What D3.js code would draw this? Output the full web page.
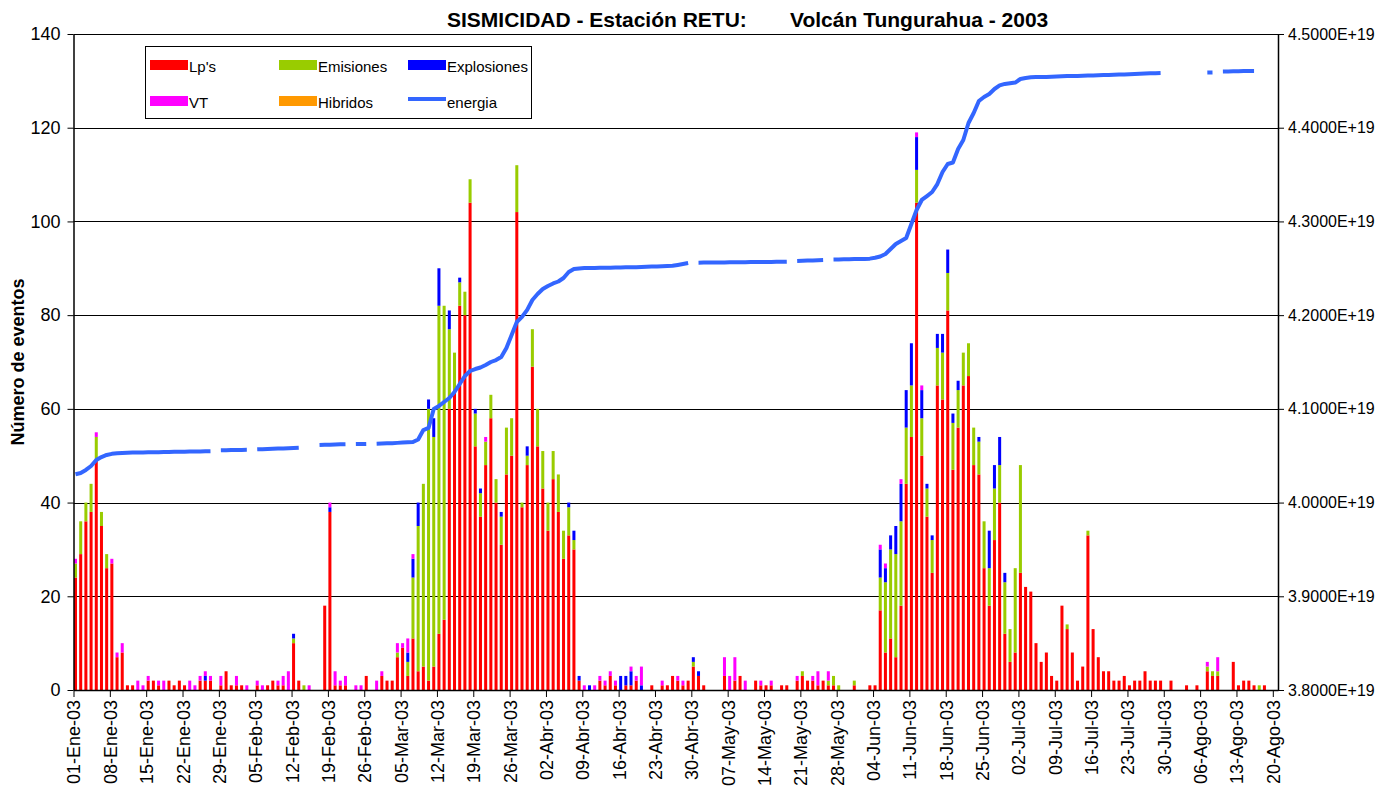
<!DOCTYPE html>
<html><head><meta charset="utf-8">
<script src="https://cdn.jsdelivr.net/npm/d3@7"></script>
<style>
body{margin:0;background:#fff}
svg{display:block}
text{font-family:"Liberation Sans",Arial,sans-serif;fill:#000}
</style>
</head><body>
<svg id="chart" width="1396" height="796"></svg>
<script>
// ---------------- DATA ----------------
const firstDay = [2003, 0, 1];   // 01-Ene-03, one value per day
const xTickLabels = ["01-Ene-03","08-Ene-03","15-Ene-03","22-Ene-03","29-Ene-03","05-Feb-03","12-Feb-03","19-Feb-03","26-Feb-03","05-Mar-03","12-Mar-03","19-Mar-03","26-Mar-03","02-Abr-03","09-Abr-03","16-Abr-03","23-Abr-03","30-Abr-03","07-May-03","14-May-03","21-May-03","28-May-03","04-Jun-03","11-Jun-03","18-Jun-03","25-Jun-03","02-Jul-03","09-Jul-03","16-Jul-03","23-Jul-03","30-Jul-03","06-Ago-03","13-Ago-03","20-Ago-03"];
const yTicks = [0,20,40,60,80,100,120,140];
const energyTicks = [3.8,3.9,4.0,4.1,4.2,4.3,4.4,4.5]; // x 1E19

const lps = [
24,29,36,38,49,35,26,27,7,8,
1,1,0,0,2,2,1,0,2,1,
2,1,0,0,2,2,2,0,1,4,
1,1,1,0,0,1,0,1,2,1,
1,0,10,2,0,0,0,0,18,38,
1,1,1,0,0,0,3,0,0,3,
2,2,7,9,3,11,4,5,2,5,
12,15,60,64,82,80,104,52,37,48,
58,40,31,46,50,102,39,48,69,52,
43,34,45,38,28,33,30,2,0,0,
0,2,1,3,1,0,1,1,2,0,
0,1,0,1,1,3,2,1,2,5,
3,1,0,0,0,3,0,2,3,0,
0,2,1,1,1,0,1,1,0,2,
3,2,2,1,2,1,1,0,0,0,
1,0,0,1,1,17,8,11,7,18,
44,54,104,50,37,25,65,62,81,47,
56,65,67,48,46,26,18,32,40,12,
6,8,25,22,21,10,6,8,3,2,
18,13,8,2,5,33,13,7,4,4,
2,2,3,1,2,2,4,2,2,2,
0,2,0,0,1,0,1,0,4,3,
3,0,0,6,1,2,2,1,0,1];

const emisiones = [
3,7,4,6,5,3,3,0,0,0,
0,0,0,0,0,0,0,0,0,0,
0,0,0,0,0,0,0,0,0,0,
0,0,0,0,0,0,0,0,0,0,
0,0,1,0,1,0,0,0,0,0,
0,0,0,0,0,0,0,0,0,0,
0,0,1,0,3,13,31,39,58,49,
70,67,17,8,5,5,5,7,5,5,
5,5,6,10,8,10,1,2,8,8,
8,6,6,8,6,6,2,0,0,0,
0,0,0,0,0,0,0,0,0,0,
0,0,0,0,0,0,0,0,0,1,
0,0,0,0,0,0,0,0,0,0,
0,0,0,0,0,0,0,0,0,0,
1,0,0,0,0,1,2,1,0,0,
1,0,0,0,0,7,15,19,22,18,
12,11,7,8,6,7,8,10,8,10,
8,7,7,8,7,10,8,11,8,11,
7,18,23,0,0,0,0,0,0,0,
0,1,0,0,0,1,0,0,0,0,
0,0,0,0,0,0,0,0,0,0,
0,0,0,0,0,0,0,0,1,1,
1,0,0,0,0,0,0,0,1,0];

const explosiones = [
0,0,0,0,0,0,0,0,0,0,
0,0,0,0,0,0,0,0,0,0,
0,0,0,0,0,1,0,0,0,0,
0,0,0,0,0,0,0,0,0,0,
0,0,1,0,0,0,0,0,0,1,
0,0,0,0,0,0,0,0,0,0,
0,0,0,0,2,4,5,0,2,4,
8,0,4,0,1,0,0,1,1,0,
0,0,1,0,0,0,0,2,0,0,
0,0,0,0,0,1,2,1,0,1,
0,0,0,0,0,3,2,3,0,1,
0,0,0,0,0,0,0,0,0,1,
1,0,0,0,0,0,0,0,0,0,
0,0,0,0,0,0,0,0,0,0,
0,0,0,0,0,0,0,0,0,0,
0,0,0,0,0,6,3,3,6,8,
8,9,7,6,1,1,3,4,5,2,
2,0,0,0,1,0,8,5,6,2,
0,0,0,0,0,0,0,0,0,0,
0,0,0,0,0,0,0,0,0,0,
0,0,0,0,0,0,0,0,0,0,
0,0,0,0,0,0,0,0,0,0,
0,0,0,0,0,0,0,0,0,0];

const vt = [
1,0,0,0,1,0,0,1,1,2,
0,0,2,1,1,0,1,2,0,0,
0,0,2,1,1,1,1,0,2,0,
0,2,0,1,0,1,1,0,0,1,
2,4,0,0,0,1,0,0,0,1,
3,1,2,0,1,1,0,0,2,1,
0,0,2,1,3,1,0,0,0,0,
0,0,0,0,0,0,0,0,0,1,
0,0,0,0,0,0,0,0,0,0,
0,0,0,0,0,0,0,0,1,0,
1,1,1,1,1,0,0,1,1,4,
0,0,0,1,0,0,1,1,0,0,
0,0,0,0,0,4,3,5,0,2,
0,0,1,0,1,0,0,0,0,1,
0,0,1,3,0,2,0,0,0,0,
0,0,0,0,0,1,1,0,0,1,
0,0,1,1,0,0,0,0,0,0,
0,0,0,0,0,0,0,0,0,0,
0,0,0,0,0,0,0,0,0,0,
0,0,0,0,0,0,0,0,0,0,
0,0,0,0,0,0,0,0,0,0,
0,0,0,0,0,0,0,0,1,0,
3,0,0,0,0,0,0,0,0,0];

const hibridos = [
0,0,0,0,0,0,0,0,0,0, 0,0,0,0,0,0,0,0,0,0, 0,0,0,0,0,0,0,0,0,0,
0,0,0,0,0,0,0,0,0,0, 0,0,0,0,0,0,0,0,0,0, 0,0,0,0,0,0,0,0,0,0,
0,0,0,0,0,0,0,0,0,0, 0,0,0,0,0,0,0,0,0,0, 0,0,0,0,0,0,0,0,0,0,
0,0,0,0,0,0,0,0,0,0, 0,0,0,0,0,0,0,0,0,0, 0,0,0,0,0,0,0,0,0,0,
0,0,0,0,0,0,0,0,0,0, 0,0,0,0,0,0,0,0,0,0, 0,0,0,0,0,0,0,0,0,0,
0,0,0,0,0,0,0,0,0,0, 0,0,0,0,0,0,0,0,0,0, 0,0,0,0,0,0,0,0,0,0,
0,0,0,0,0,0,0,0,0,0, 0,0,0,0,0,0,0,0,0,0, 0,0,0,0,0,0,0,0,0,0,
0,0,0,0,0,0,0,0,0,0, 0,0,0,0,0,0,0,0,0,0];

// cumulative seismic energy, in units of 1E19 (null = no data)
const energia = [
4.0302,4.0316,4.0348,4.0390,4.0454,4.0486,4.0508,4.0520,4.0526,4.0529,
4.0531,4.0533,4.0534,4.0535,4.0536,4.0537,4.0538,4.0539,4.0540,4.0541,
4.0542,4.0543,4.0544,4.0545,4.0546,4.0547,4.0548,null,4.0558,4.0559,
4.0560,4.0561,4.0562,4.0563,null,4.0568,4.0570,4.0572,4.0574,4.0576,
4.0578,4.0580,4.0582,4.0585,null,null,null,4.0614,4.0616,4.0618,
4.0620,4.0622,4.0623,null,4.0624,4.0625,4.0626,null,4.0628,4.0630,
4.0632,4.0634,4.0637,4.0640,4.0643,4.0646,4.0673,4.0774,4.0796,4.0999,
4.1031,4.1073,4.1116,4.1180,4.1265,4.1351,4.1404,4.1425,4.1441,4.1468,
4.1500,4.1521,4.1553,4.1649,4.1788,4.1927,4.1981,4.2056,4.2162,4.2226,
4.2279,4.2311,4.2338,4.2359,4.2396,4.2460,4.2492,4.2498,4.2502,4.2503,
4.2504,4.2505,4.2506,4.2507,4.2508,4.2509,4.2510,4.2511,4.2512,4.2514,
4.2516,4.2518,4.2520,4.2522,4.2524,4.2526,4.2535,4.2545,4.2556,null,
4.2560,4.2561,4.2562,4.2562,4.2563,4.2563,4.2564,4.2564,4.2565,4.2565,
4.2566,4.2566,4.2567,4.2567,4.2568,4.2569,4.2570,4.2571,null,4.2578,
4.2580,4.2582,4.2584,4.2586,4.2588,null,4.2594,4.2595,4.2596,4.2597,
4.2598,4.2599,4.2600,4.2603,4.2612,4.2626,4.2652,4.2706,4.2759,4.2791,
4.2823,4.2973,4.3122,4.3229,4.3271,4.3314,4.3399,4.3527,4.3613,4.3629,
4.3773,4.3869,4.4050,4.4157,4.4285,4.4328,4.4360,4.4413,4.4451,4.4467,
4.4475,4.4482,4.4520,4.4531,4.4538,4.4540,4.4541,4.4542,4.4545,4.4547,
4.4549,4.4551,4.4552,4.4553,4.4554,4.4556,4.4558,4.4560,4.4562,4.4563,
4.4565,4.4567,4.4569,4.4571,4.4573,4.4575,4.4578,4.4580,4.4582,4.4584,
null,null,null,null,null,null,null,null,4.4589,4.4590,
null,4.4600,4.4601,4.4602,4.4603,4.4604,4.4605,4.4605,null,null];

const seriesNames = ["Lp's","Emisiones","Explosiones","VT","Hibridos"];
const seriesColors = ["#FF0000","#99CC00","#0000FF","#FF00FF","#FF9900"];
const energyColor = "#3366FF";

// ---------------- CHART ----------------
const svg = d3.select("#chart");
const L = 73.5, R = 1278, T = 34, B = 690;
const day = i => new Date(Date.UTC(firstDay[0], firstDay[1], firstDay[2] + i));
const keys = ["lp","em","ex","vt","hib"];
const rows = lps.map((v, i) => ({date: day(i), lp: v, em: emisiones[i], ex: explosiones[i], vt: vt[i], hib: hibridos[i], e: energia[i]}));

const x = d3.scaleUtc().domain([day(0), day(232)]).range([L, R]);
const y = d3.scaleLinear().domain([0, 140]).range([B, T]);
const yE = d3.scaleLinear().domain([3.8, 4.5]).range([B, T]);
const dayW = x(day(1)) - x(day(0));
const bw = dayW * 0.58;

// gridlines
svg.append("g").selectAll("line").data(yTicks.slice(1)).join("line")
  .attr("x1", L).attr("x2", R)
  .attr("y1", d => Math.round(y(d)) + 0.5).attr("y2", d => Math.round(y(d)) + 0.5)
  .attr("stroke", "#000").attr("stroke-width", 1);

// stacked bars
const stacked = d3.stack().keys(keys)(rows);
svg.append("g").selectAll("g").data(stacked).join("g")
  .attr("fill", (d, i) => seriesColors[i])
  .selectAll("rect").data(d => d.filter(s => s[1] - s[0] > 0)).join("rect")
  .attr("x", d => x(d.data.date) + 0.5)
  .attr("width", bw)
  .attr("y", d => y(d[1]))
  .attr("height", d => y(d[0]) - y(d[1]));

// energy line
const line = d3.line().defined(d => d.e != null)
  .x(d => x(d.date) + 0.5 + bw / 2).y(d => yE(d.e));
svg.append("path").datum(rows).attr("d", line)
  .attr("fill", "none").attr("stroke", energyColor).attr("stroke-width", 4)
  .attr("stroke-linejoin", "round");

// axes
const tickDates = xTickLabels.map((t, i) => day(i * 7));
const gx = svg.append("g").attr("transform", `translate(0,${B})`)
  .call(d3.axisBottom(x).tickValues(tickDates).tickSize(7).tickSizeOuter(0).tickFormat((d, i) => xTickLabels[i]));
gx.select(".domain").attr("stroke", "#000").attr("stroke-width", 1.5);
gx.selectAll(".tick line").attr("stroke", "#000");
gx.selectAll(".tick text")
  .attr("transform", "rotate(-90)")
  .attr("text-anchor", "end")
  .attr("x", -10).attr("y", 0).attr("dy", "0.36em")
  .style("font-size", "18px").style("font-family", '"Liberation Sans",Arial,sans-serif');

const gy = svg.append("g").attr("transform", `translate(${L},0)`)
  .call(d3.axisLeft(y).tickValues(yTicks).tickSize(6).tickSizeOuter(0));
gy.select(".domain").attr("stroke", "#000").attr("stroke-width", 1.5);
gy.selectAll(".tick text").attr("x", -13).style("font-size", "18px").style("font-family", '"Liberation Sans",Arial,sans-serif');

const gr = svg.append("g").attr("transform", `translate(${R},0)`)
  .call(d3.axisRight(yE).tickValues(energyTicks).tickSize(6).tickSizeOuter(0).tickFormat(d => d.toFixed(4) + "E+19"));
gr.select(".domain").attr("stroke", "#000").attr("stroke-width", 1.5);
gr.selectAll(".tick text").attr("x", 10).style("font-size", "16px").style("font-family", '"Liberation Sans",Arial,sans-serif');

// titles
svg.append("text").attr("x", 447).attr("y", 27).style("font-size", "21px").style("font-weight", "bold")
  .text("SISMICIDAD - Estación RETU:");
svg.append("text").attr("x", 790).attr("y", 27).style("font-size", "21px").style("font-weight", "bold")
  .text("Volcán Tungurahua - 2003");
svg.append("text").attr("transform", "translate(24,362) rotate(-90)").attr("text-anchor", "middle")
  .style("font-size", "18px").style("font-weight", "bold").text("Número de eventos");

// legend
const lg = svg.append("g");
lg.append("rect").attr("x", 145.5).attr("y", 46.5).attr("width", 386).attr("height", 72)
  .attr("fill", "#fff").attr("stroke", "#000").attr("stroke-width", 1);
const legendItems = seriesNames.map((n, i) => ({name: n, color: seriesColors[i], type: "rect"}))
  .concat([{name: "energia", color: energyColor, type: "line"}]);
const order = [0, 1, 2, 3, 4, 5];
const colX = [150, 279, 408], rowY = [60, 96];
legendItems.forEach((it, k) => {
  const cx = colX[k % 3], cy = rowY[Math.floor(k / 3)];
  if (it.type === "rect") {
    lg.append("rect").attr("x", cx).attr("y", cy).attr("width", 38).attr("height", 10).attr("fill", it.color);
  } else {
    lg.append("line").attr("x1", cx).attr("x2", cx + 38).attr("y1", cy + 3).attr("y2", cy + 3)
      .attr("stroke", it.color).attr("stroke-width", 4);
  }
  lg.append("text").attr("x", cx + 39).attr("y", cy + 12).style("font-size", "15px").text(it.name);
});
</script>
</body></html>
